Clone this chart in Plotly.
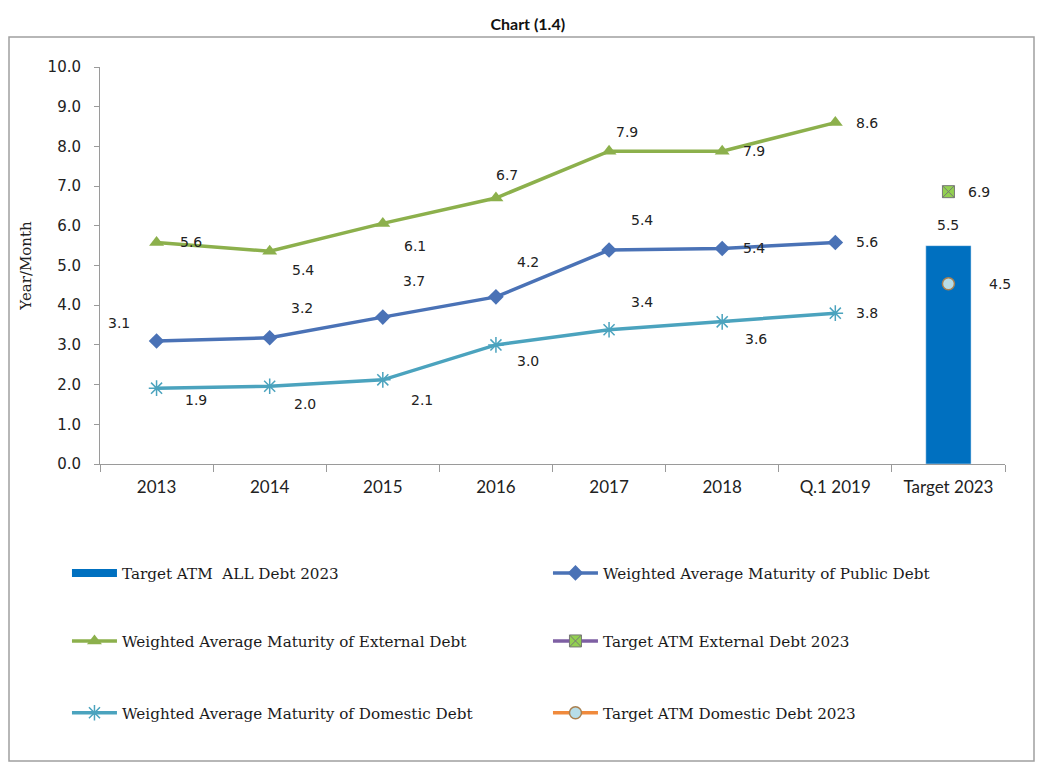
import plotly.graph_objects as go

categories = ["2013", "2014", "2015", "2016", "2017", "2018", "Q.1 2019", "Target 2023"]
hist_categories = categories[:7]
public_debt = [3.1, 3.18, 3.7, 4.21, 5.39, 5.43, 5.58]
external_debt = [5.58, 5.36, 6.06, 6.7, 7.88, 7.88, 8.6]
domestic_debt = [1.91, 1.96, 2.12, 3.0, 3.38, 3.58, 3.8]
target_all = [5.5]
target_external = [6.86]
target_domestic = [4.54]
target_cat = ["Target 2023"]

# label offsets (pixels) relative to each point: style only
pub_dx = [-38, 32, 31, 32, 33, 32, 32]
pub_dy = [-18, -30, -36, -35, -30, 0, 0]
ext_dx = [34, 33, 32, 11, 18, 32, 32]
ext_dy = [0, 19, 23, -23, -19, 0, 0]
dom_dx = [39, 35, 39, 32, 33, 34, 32]
dom_dy = [12, 18, 20, 16, -28, 17, 0]

LBL = dict(family="DejaVu Sans", size=14, color="#222222")
BAR_C = "#0070C0"
PUB_C = "#4A72B6"
EXT_C = "#8CB04C"
DOM_C = "#4BA3BE"

fig = go.Figure()

fig.add_trace(go.Bar(
    x=target_cat, y=target_all, name="Target ATM  ALL Debt 2023",
    marker=dict(color=BAR_C), width=0.4, showlegend=False))
# legend entry for the bar (drawn as a wide block like the original)
fig.add_trace(go.Scatter(
    x=[None], y=[None], name="Target ATM  ALL Debt 2023", mode="lines",
    line=dict(color=BAR_C, width=8), legend="legend"))

fig.add_trace(go.Scatter(
    x=hist_categories, y=public_debt, name="Weighted Average Maturity of Public Debt",
    mode="lines+markers", line=dict(color=PUB_C, width=3.5),
    marker=dict(symbol="diamond", size=12, color=PUB_C), legend="legend"))

fig.add_trace(go.Scatter(
    x=hist_categories, y=external_debt, name="Weighted Average Maturity of External Debt",
    mode="lines+markers", line=dict(color=EXT_C, width=3.5),
    marker=dict(symbol="triangle-up", size=13, color=EXT_C), legend="legend2"))

fig.add_trace(go.Scatter(
    x=target_cat, y=target_external, name="Target ATM External Debt 2023",
    mode="lines+markers", line=dict(color="#7E5FA3", width=3.5),
    marker=dict(symbol="square-x", size=12, color="#92D050", line=dict(color="#777777", width=1)),
    legend="legend2"))

fig.add_trace(go.Scatter(
    x=hist_categories, y=domestic_debt, name="Weighted Average Maturity of Domestic Debt",
    mode="lines+markers", line=dict(color=DOM_C, width=3.5),
    marker=dict(symbol="asterisk-open", size=13, color=DOM_C, line=dict(width=1.5, color=DOM_C)),
    legend="legend3"))

fig.add_trace(go.Scatter(
    x=target_cat, y=target_domestic, name="Target ATM Domestic Debt 2023",
    mode="lines+markers", line=dict(color="#F08A3C", width=3.5),
    marker=dict(symbol="circle", size=12, color="#B7DDE8", line=dict(color="#A98050", width=1.5)),
    legend="legend3"))

annotations = []
def add_labels(xs, ys, dxs, dys):
    for x, y, dx, dy in zip(xs, ys, dxs, dys):
        annotations.append(dict(x=categories.index(x), y=y, xref="x", yref="y", text=f"{y:.1f}",
                                showarrow=False, xanchor="center", yanchor="middle",
                                xshift=dx, yshift=-dy, font=LBL))

add_labels(hist_categories, public_debt, pub_dx, pub_dy)
add_labels(hist_categories, external_debt, ext_dx, ext_dy)
add_labels(hist_categories, domestic_debt, dom_dx, dom_dy)
add_labels(target_cat, target_all, [0], [-21])
add_labels(target_cat, target_external, [31], [0])
add_labels(target_cat, target_domestic, [52], [0])

leg_common = dict(orientation="h", xanchor="left", yanchor="middle",
                  font=dict(family="DejaVu Serif", size=15.2, color="#1a1a1a"),
                  entrywidthmode="pixels", entrywidth=421, bgcolor="rgba(0,0,0,0)",
                  itemwidth=45, traceorder="normal")

# page is rendered with an 8px body margin; margins compensate for it
fig.update_layout(
    width=1050, height=765,
    margin=dict(l=92, r=53, t=59, b=309),
    paper_bgcolor="white", plot_bgcolor="white",
    title=dict(text="<b>Chart (1.4)</b>", x=0.495, xanchor="center", y=1 - 16 / 765, yanchor="middle",
               font=dict(family="Lato", size=16, color="#111111")),
    xaxis=dict(type="category", categoryorder="array", categoryarray=categories,
               range=[-0.5, 7.5], showline=True, linecolor="#9a9a9a", linewidth=1,
               ticks="outside", tickson="boundaries", ticklen=7, tickcolor="#9a9a9a",
               ticklabelstandoff=8,
               tickfont=dict(family="Lato", size=17, color="#222222"), showgrid=False),
    yaxis=dict(range=[0, 10], dtick=1, tickformat=".1f", showline=True, linecolor="#9a9a9a",
               linewidth=1, ticks="outside", ticklen=5, tickcolor="#9a9a9a", showgrid=False,
               ticklabelstandoff=10,
               zeroline=False, tickfont=dict(family="DejaVu Sans", size=15, color="#222222"),
               title=dict(text="Year/Month", font=dict(family="DejaVu Serif", size=15, color="#222222"),
                          standoff=12)),
    showlegend=True,
    legend=dict(x=-0.0365, y=-0.2746, **leg_common),
    legend2=dict(x=-0.0365, y=-0.446, **leg_common),
    legend3=dict(x=-0.0365, y=-0.627, **leg_common),
    annotations=annotations,
    shapes=[dict(type="rect", xref="paper", yref="paper",
                 x0=(1 - 92) / 905, x1=(1026 - 92) / 905,
                 y0=(456 - 753) / 397, y1=(456 - 29) / 397,
                 line=dict(color="#a0a0a0", width=1.5), fillcolor="rgba(0,0,0,0)", layer="below")],
)

fig.write_html("out.html")
